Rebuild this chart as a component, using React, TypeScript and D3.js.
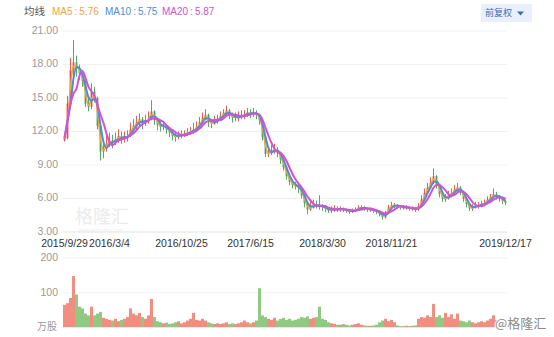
import React from 'react';
import * as d3 from 'd3';

// One entry per ~7 trading days
const closes = [
  11.4, 14.5, 17.5, 18.2, 17.6, 17.2, 16.5, 14.5, 14.2, 15.6,
  15.0, 12.5, 10.2, 10.5, 10.9, 11.2, 11.0, 11.3, 11.6, 11.4,
  11.5, 11.6, 12.2, 12.5, 12.8, 13.1, 12.7, 13.0, 13.2, 13.8,
  13.0, 12.6, 12.4, 12.5, 12.2, 11.9, 11.6, 11.5, 11.7, 11.7,
  11.8, 11.9, 12.0, 12.2, 12.4, 12.8, 13.2, 13.5, 12.8, 12.7,
  13.0, 13.1, 13.4, 13.6, 13.9, 13.5, 13.2, 13.3, 13.3, 13.5,
  13.5, 13.7, 13.6, 13.7, 13.5, 13.0, 11.5, 10.0, 10.1, 10.3,
  10.4, 10.1, 9.5, 8.8, 8.0, 7.5, 7.2, 7.1, 6.9, 6.3,
  5.6, 5.0, 5.3, 5.5, 5.4, 5.3, 5.2, 5.1, 4.9, 5.0,
  5.1, 5.0, 5.1, 5.0, 4.9, 4.8, 4.9, 5.0, 5.2, 5.2,
  5.1, 5.0, 5.0, 4.9, 4.8, 4.6, 4.3, 4.7, 5.2, 5.4,
  5.4, 5.3, 5.2, 5.2, 5.2, 5.1, 5.1, 5.0, 5.3, 5.9,
  6.5, 7.0, 7.4, 8.0, 7.2, 6.4, 6.0, 6.0, 6.3, 6.5,
  6.8, 7.0, 6.6, 6.0, 5.5, 5.1, 5.2, 5.4, 5.4, 5.5,
  5.6, 5.9, 6.1, 6.4, 6.2, 6.0, 5.8, 5.6,
];
const highs = [
  11.8, 15.2, 18.6, 20.2, 18.8, 18.0, 17.5, 16.6, 14.9, 16.3,
  16.0, 15.1, 12.6, 11.2, 11.6, 11.9, 11.7, 11.9, 12.2, 12.0,
  12.0, 12.1, 12.8, 13.1, 13.4, 13.6, 13.3, 13.5, 13.8, 14.8,
  13.9, 13.2, 12.9, 12.9, 12.7, 12.4, 12.1, 11.9, 12.0, 12.1,
  12.1, 12.3, 12.4, 12.8, 12.9, 13.3, 13.7, 14.0, 13.6, 13.1,
  13.4, 13.5, 13.8, 14.0, 14.3, 14.0, 13.7, 13.7, 13.8, 13.9,
  13.9, 14.1, 14.0, 14.1, 13.9, 13.6, 13.1, 11.6, 10.6, 10.8,
  10.9, 10.6, 10.2, 9.6, 8.9, 8.1, 7.7, 7.5, 7.3, 7.0,
  6.4, 5.7, 5.7, 5.9, 5.8, 6.3, 5.5, 5.4, 5.2, 5.3,
  5.4, 5.3, 5.3, 5.2, 5.1, 5.0, 5.1, 5.2, 5.4, 5.4,
  5.3, 5.2, 5.2, 5.1, 5.0, 4.9, 4.7, 4.9, 5.4, 5.7,
  5.6, 5.5, 5.4, 5.4, 5.4, 5.3, 5.3, 5.2, 5.6, 6.3,
  6.9, 7.4, 7.9, 8.7, 8.1, 7.3, 6.5, 6.4, 6.7, 6.9,
  7.2, 7.4, 7.1, 6.7, 6.1, 5.6, 5.5, 5.7, 5.7, 5.8,
  5.9, 6.2, 6.4, 6.9, 6.6, 6.3, 6.1, 5.9,
];
const lows = [
  11.1, 11.3, 14.3, 16.8, 16.9, 16.6, 16.0, 14.2, 13.8, 14.0,
  14.6, 12.2, 9.4, 9.6, 10.2, 10.6, 10.5, 10.8, 11.0, 10.9,
  11.0, 11.1, 11.5, 12.0, 12.2, 12.5, 12.2, 12.5, 12.7, 13.0,
  12.6, 12.1, 12.0, 12.1, 11.8, 11.5, 11.2, 11.1, 11.3, 11.4,
  11.5, 11.6, 11.7, 11.8, 12.0, 12.3, 12.7, 13.0, 12.4, 12.3,
  12.6, 12.7, 13.0, 13.2, 13.4, 13.1, 12.8, 12.9, 12.9, 13.1,
  13.1, 13.3, 13.2, 13.3, 13.1, 12.6, 11.2, 9.7, 9.7, 9.9,
  10.0, 9.7, 9.1, 8.5, 7.7, 7.2, 6.9, 6.8, 6.5, 6.0,
  5.2, 4.6, 4.9, 5.1, 5.1, 5.0, 4.9, 4.8, 4.7, 4.7,
  4.8, 4.8, 4.8, 4.8, 4.7, 4.6, 4.7, 4.8, 4.9, 5.0,
  4.9, 4.8, 4.8, 4.7, 4.6, 4.4, 4.1, 4.2, 4.6, 5.1,
  5.1, 5.1, 5.0, 5.0, 5.0, 4.9, 4.9, 4.8, 4.9, 5.2,
  5.8, 6.4, 6.9, 7.3, 6.9, 6.1, 5.7, 5.7, 5.9, 6.1,
  6.4, 6.6, 6.3, 5.7, 5.2, 4.9, 4.9, 5.1, 5.1, 5.2,
  5.3, 5.5, 5.8, 6.0, 5.9, 5.7, 5.5, 5.4,
];
const firstOpen = 11.2;
// volume, 万股
const volumes = [
  65, 70, 85, 148, 95, 60, 55, 40, 35, 60,
  35, 40, 45, 28, 25, 22, 20, 25, 18, 22,
  25, 30, 55, 40, 35, 42, 30, 25, 35, 82,
  30, 18, 15, 12, 14, 10, 12, 15, 18, 12,
  15, 20, 25, 42, 22, 20, 25, 20, 15, 12,
  10, 12, 10, 12, 15, 10, 12, 10, 12, 15,
  20, 15, 12, 15, 20, 113, 35, 30, 25, 22,
  28, 20, 25, 28, 22, 25, 20, 22, 25, 30,
  28, 32, 25, 28, 30, 60, 25, 22, 15, 12,
  10, 8, 8, 10, 8, 6, 8, 10, 12, 8,
  6, 5, 5, 6, 8, 15, 20, 25, 18, 22,
  15, 6, 4, 4, 5, 4, 5, 6, 25, 30,
  28, 35, 30, 68, 30, 35, 28, 42, 30, 38,
  25, 40, 20, 18, 15, 20, 15, 12, 15, 18,
  15, 20, 25, 35, 22, 18, 15, 20,
];

const tickLabels = ['2015/9/29', '2016/3/4', '2016/10/25', '2017/6/15', '2018/3/30', '2018/11/21', '2019/12/17'];
const tickIndices = [0, 15, 39, 62, 86, 109, 147];
const priceTicks = [3, 6, 9, 12, 15, 18, 21];
const volumeTicks = [100, 200];
const maNames = ['MA5', 'MA10', 'MA20'];
const maValues = ['5.76', '5.75', '5.87'];
const maWindows = [2, 3, 5]; // in periods of the arrays above
const maColors = ['#f3a43b', '#4b8fd9', '#d94fd3'];

const W = 554;
const H = 337;
const L = 63;
const R = 507;
const NUM_FONT = '"Liberation Sans", Arial, sans-serif';
const CJK_FONT = '"Noto Sans CJK SC", sans-serif';
const UP = '#ec4c3f';
const DOWN = '#3fa55a';

export default function App() {
  const idx = closes.map((_, i) => i);
  const x = d3.scaleBand<number>().domain(idx).range([L, R]);
  const bw = x.bandwidth();
  const cx = (i: number) => (x(i) as number) + bw / 2;
  const y = d3.scaleLinear().domain([3, 21]).range([232, 31]);
  const yv = d3.scaleLinear().domain([0, 200]).range([327.5, 258]);

  const opens = closes.map((c, i) => (i === 0 ? firstOpen : closes[i - 1]));

  const maSeries = maWindows.map((w) =>
    closes.map((_, i) => {
      const s = closes.slice(Math.max(0, i - w + 1), i + 1);
      return d3.mean(s) as number;
    })
  );
  const line = d3
    .line<number>()
    .x((_, i) => cx(i))
    .y((d) => y(d))
    .curve(d3.curveMonotoneX);

  const legendX = [52, 105, 162];

  return (
    <svg width={W} height={H} style={{ position: 'absolute', left: 0, top: 0, background: '#fff' }}>
      {/* legend */}
      <text x={24} y={12} dominantBaseline="middle" fontFamily={CJK_FONT} fontSize={10.5} fill="#555">均线</text>
      {maNames.map((n, k) => (
        <text key={n} x={legendX[k]} y={12} dominantBaseline="middle" fontFamily={NUM_FONT} fontSize={10} fill={maColors[k]}>
          {n + '\u2009:\u2009' + maValues[k]}
        </text>
      ))}
      {/* button */}
      <rect x={481} y={4} width={51} height={18} fill="#e9f0fb" rx={1} />
      <text x={485} y={13.5} dominantBaseline="middle" fontFamily={CJK_FONT} fontSize={9} fill="#3a6cb5">前复权</text>
      <path d="M517,11.5 L524,11.5 L520.5,15.5 Z" fill="#3a6cb5" />

      {/* price grid */}
      {priceTicks.map((t) => (
        <g key={t}>
          <line x1={L} x2={R} y1={y(t)} y2={y(t)} stroke={t === 3 ? '#e2e2e2' : '#f1f1f1'} strokeWidth={1} />
          <text x={58} y={y(t)} textAnchor="end" dominantBaseline="middle" fontFamily={NUM_FONT} fontSize={10.5} fill="#9a9a9a">
            {t.toFixed(2)}
          </text>
        </g>
      ))}

      {/* watermark */}
      <text x={75} y={223} fontFamily={CJK_FONT} fontSize={18} fill="#ececec">格隆汇</text>
      <text x={78} y={232} fontFamily={NUM_FONT} fontSize={5} fill="#ececec">www.gelonghui.com</text>

      {/* candles */}
      {idx.map((i) => {
        const o = opens[i];
        const c = closes[i];
        const up = c >= o;
        const col = up ? UP : DOWN;
        const top = y(Math.max(o, c));
        const bot = y(Math.min(o, c));
        return (
          <g key={i}>
            <line x1={cx(i)} x2={cx(i)} y1={y(highs[i])} y2={y(lows[i])} stroke={col} strokeWidth={0.9} />
            <rect x={cx(i) - 0.9} y={top} width={1.8} height={Math.max(1, bot - top)} fill={col} />
          </g>
        );
      })}

      {/* MA lines */}
      {maSeries.map((s, k) => (
        <path key={k} d={line(s) as string} fill="none" stroke={maColors[k]} strokeWidth={k === 0 ? 1.5 : 2} />
      ))}

      {/* x labels */}
      {tickIndices.map((ti, k) => (
        <text key={k} x={cx(ti)} y={244} textAnchor="middle" dominantBaseline="middle" fontFamily={NUM_FONT} fontSize={10.5} fill="#333">
          {tickLabels[k]}
        </text>
      ))}

      {/* volume grid */}
      {volumeTicks.map((t) => (
        <g key={t}>
          <line x1={L} x2={R} y1={yv(t)} y2={yv(t)} stroke="#f3f3f3" />
          <text x={58} y={yv(t)} textAnchor="end" dominantBaseline="middle" fontFamily={NUM_FONT} fontSize={10.5} fill="#9a9a9a">
            {t}
          </text>
        </g>
      ))}
      <text x={57} y={327} textAnchor="end" dominantBaseline="middle" fontFamily={CJK_FONT} fontSize={10} fill="#9a9a9a">万股</text>

      {/* volume bars */}
      {idx.map((i) => {
        const up = closes[i] >= opens[i];
        return (
          <rect
            key={i}
            x={x(i) as number}
            y={yv(volumes[i])}
            width={bw}
            height={yv(0) - yv(volumes[i])}
            fill={up ? '#f07a68' : '#7cbf6c'}
            fillOpacity={0.85}
          />
        );
      })}
      <line x1={L} x2={R} y1={yv(0)} y2={yv(0)} stroke="#e6e6e6" />

      {/* bottom right mark */}
      <text x={495} y={328} fontFamily={CJK_FONT} fontSize={13} fill="#8c8c8c" stroke="#fff" strokeWidth={2} paintOrder="stroke">
        @格隆汇
      </text>
    </svg>
  );
}
